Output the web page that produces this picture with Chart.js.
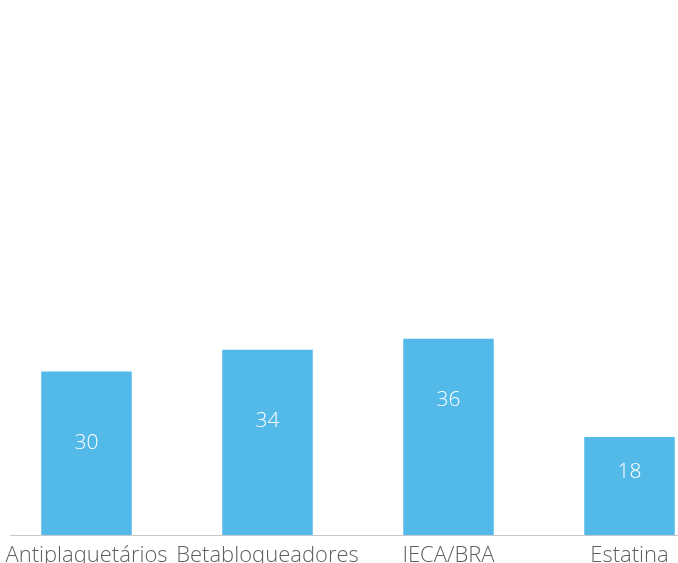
<!DOCTYPE html>
<html>
<head>
<meta charset="utf-8">
<script src="https://cdn.jsdelivr.net/npm/chart.js@4"></script>
<style>
    html, body { margin: 0; padding: 0; background: #fff; overflow: hidden; }
    body { width: 678px; height: 563px; position: relative; }
    #medChart { position: absolute; left: -4px; top: -10px; }
</style>
</head>
<body>
<canvas id="medChart" width="724" height="605"></canvas>
<script>
// categorias e valores (%)
const categorias = ['Antiplaquetários', 'Betabloqueadores', 'IECA/BRA', 'Estatina'];
const valores = [30, 34, 36, 18];
const yMax = 100;

// posição vertical do rótulo dentro da barra (fração da altura, a partir da base)
const posRotulo = [0.56, 0.615, 0.69, 0.64];

const corBarra = '#53b9e9';
const fonte = "'Open Sans', 'Noto Sans', sans-serif";

// linha do eixo x
const linhaBase = {
    id: 'linhaBase',
    afterDraw(chart) {
        const ctx = chart.ctx;
        const y = Math.round(chart.scales.y.getPixelForValue(0)) + 0.5;
        ctx.save();
        ctx.strokeStyle = '#c8c8c8';
        ctx.lineWidth = 1;
        ctx.beginPath();
        ctx.moveTo(14, y);
        ctx.lineTo(chart.width, y);
        ctx.stroke();
        ctx.restore();
    }
};

// valores em branco dentro das barras
const rotulos = {
    id: 'rotulos',
    afterDatasetsDraw(chart) {
        const ctx = chart.ctx;
        const meta = chart.getDatasetMeta(0);
        ctx.save();
        ctx.fillStyle = '#ffffff';
        ctx.font = '300 21px ' + fonte;
        ctx.textAlign = 'center';
        ctx.textBaseline = 'middle';
        meta.data.forEach((bar, i) => {
            const y = bar.base - (bar.base - bar.y) * posRotulo[i];
            ctx.fillText(String(valores[i]), bar.x, y);
        });
        ctx.restore();
    }
};

new Chart(document.getElementById('medChart').getContext('2d'), {
    type: 'bar',
    data: {
        labels: categorias,
        datasets: [{
            data: valores,
            backgroundColor: corBarra,
            borderWidth: 0,
            barPercentage: 0.5,
            categoryPercentage: 1.0,
        }],
    },
    options: {
        responsive: false,
        animation: false,
        layout: { padding: 0 },
        plugins: {
            legend: { display: false },
            tooltip: { enabled: false },
        },
        scales: {
            x: {
                grid: { display: false },
                border: { display: false },
                ticks: {
                    color: '#5f5f5f',
                    font: { family: fonte, size: 22, weight: '300' },
                    padding: 0,
                    maxRotation: 0,
                    autoSkip: false,
                },
                afterFit(scale) { scale.height = 60; },
            },
            y: {
                display: false,
                min: 0,
                max: yMax,
            },
        },
    },
    plugins: [linhaBase, rotulos],
});
</script>
</body>
</html>
